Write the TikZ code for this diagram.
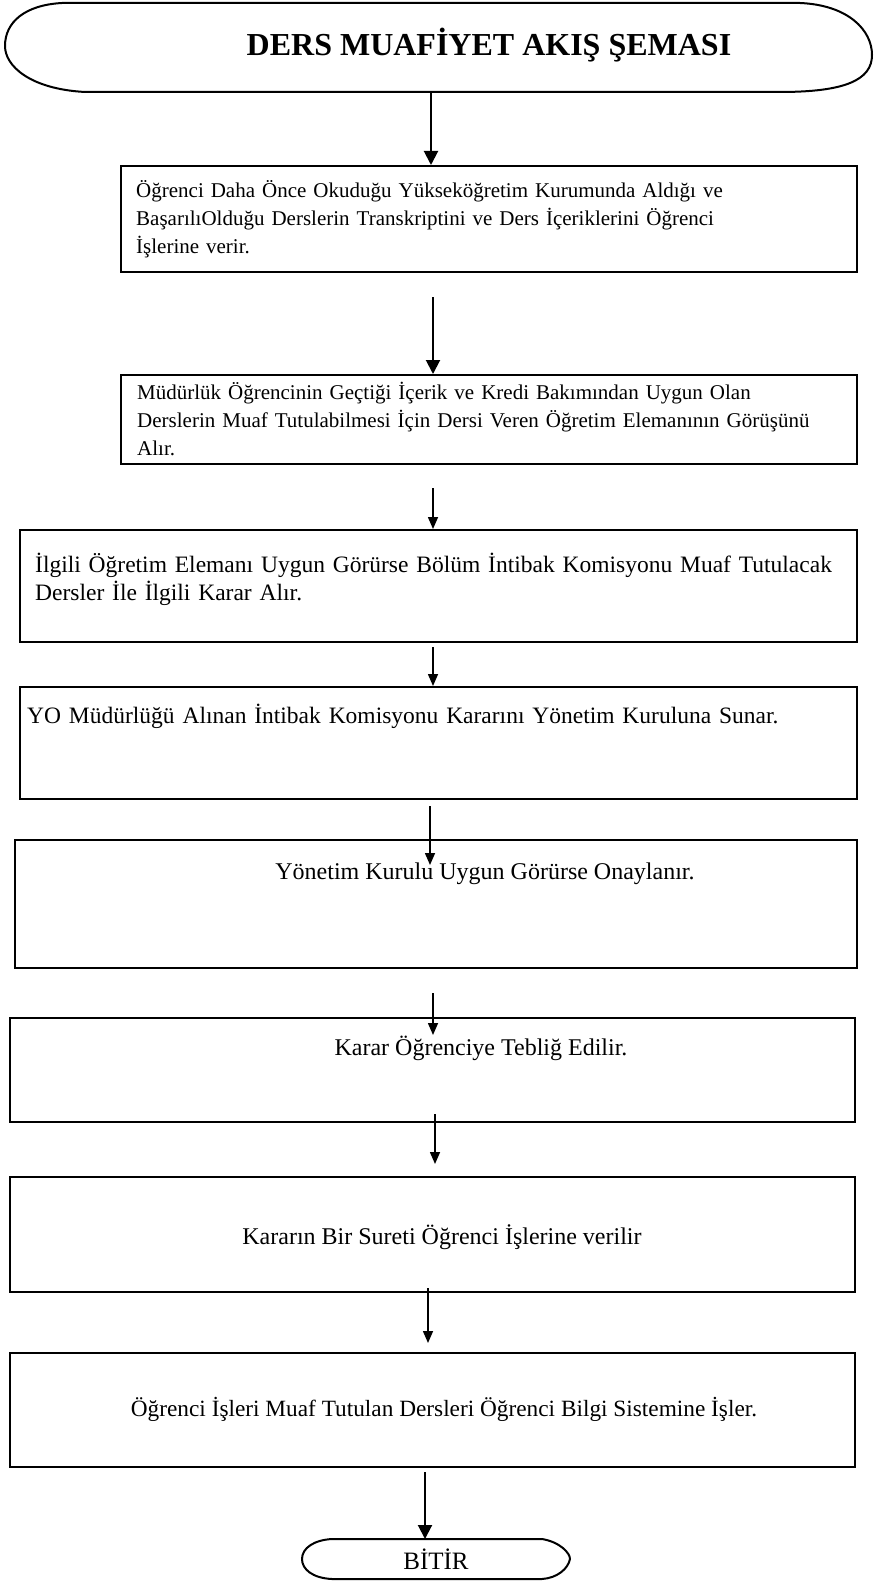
\documentclass[tikz,border=0pt]{standalone}
\usepackage{fontspec}
\setmainfont{Liberation Serif}
\usetikzlibrary{arrows.meta}
\tikzset{
  box/.style={draw, line width=2pt, rectangle, inner sep=0pt},
  txtA/.style={inner sep=0pt, font=\fontsize{21pt}{28pt}\selectfont, align=left, text width=720pt, anchor=north west},
  txtB/.style={inner sep=0pt, font=\fontsize{23.5pt}{28pt}\selectfont, align=left, text width=830pt, anchor=north west},
  ctxt/.style={inner sep=0pt, font=\fontsize{24pt}{28pt}\selectfont, anchor=base},
  arrbig/.style={line width=2pt, -{Triangle[width=14pt,length=14pt]}},
  arrsm/.style={line width=1.5pt, -{Triangle[width=10pt,length=12pt]}},
  outline/.style={line width=2pt, line join=round}
}
\begin{document}
\begin{tikzpicture}[x=1pt,y=-1pt]
\useasboundingbox (0,0) rectangle (874,1581);
% title terminal
\draw[outline] (62,3) -- (800,3) .. controls (848,5) and (872,30) .. (872,55)
  .. controls (872,80) and (845,92) .. (780,92) -- (85,92)
  .. controls (30,89) and (5,66) .. (5,46) .. controls (5,22) and (25,5) .. (62,3) -- cycle;
\node[inner sep=0pt, anchor=base, font=\fontsize{32pt}{36pt}\selectfont\bfseries] (title) at (489,56) {DERS MUAFİYET AKIŞ ŞEMASI};
\coordinate (s1) at (431,92);
% boxes (x from-to, y from-to)
\node[box, minimum width=736pt, minimum height=106pt] (b1) at (489,219) {};      % 121-857, 166-272
\node[box, minimum width=736pt, minimum height=89pt]  (b2) at (489,419.5) {};    % 121-857, 375-464
\node[box, minimum width=837pt, minimum height=112pt] (b3) at (438.5,586) {};    % 20-857, 530-642
\node[box, minimum width=837pt, minimum height=112pt] (b4) at (438.5,743) {};    % 20-857, 687-799
\node[box, minimum width=842pt, minimum height=128pt] (b5) at (436,904) {};      % 15-857, 840-968
\node[box, minimum width=845pt, minimum height=104pt] (b6) at (432.5,1070) {};   % 10-855, 1018-1122
\node[box, minimum width=845pt, minimum height=115pt] (b7) at (432.5,1234.5) {}; % 10-855, 1177-1292
\node[box, minimum width=845pt, minimum height=114pt] (b8) at (432.5,1410) {};   % 10-855, 1353-1467
% texts
\node[txtA] (t1) at (136,178) {\strut Öğrenci Daha Önce Okuduğu Yükseköğretim Kurumunda Aldığı ve\\BaşarılıOlduğu Derslerin Transkriptini ve Ders İçeriklerini Öğrenci\\İşlerine verir.};
\node[txtA] (t2) at (137,380) {\strut Müdürlük Öğrencinin Geçtiği İçerik ve Kredi Bakımından Uygun Olan\\Derslerin Muaf Tutulabilmesi İçin Dersi Veren Öğretim Elemanının Görüşünü\\Alır.};
\node[txtB] (t3) at (35,553) {\strut İlgili Öğretim Elemanı Uygun Görürse Bölüm İntibak Komisyonu Muaf Tutulacak\\Dersler İle İlgili Karar Alır.};
\node[txtB] (t4) at (27,704) {\strut YO Müdürlüğü Alınan İntibak Komisyonu Kararını Yönetim Kuruluna Sunar.};
\node[ctxt] (t5) at (485,879) {Yönetim Kurulu Uygun Görürse Onaylanır.};
\node[ctxt] (t6) at (481,1055) {Karar Öğrenciye Tebliğ Edilir.};
\node[ctxt] (t7) at (442,1244) {Kararın Bir Sureti Öğrenci İşlerine verilir};
\node[ctxt, font=\fontsize{23.3pt}{28pt}\selectfont] (t8) at (444,1416) {Öğrenci İşleri Muaf Tutulan Dersleri Öğrenci Bilgi Sistemine İşler.};
% end terminal
\node[inner sep=0pt, anchor=base, font=\fontsize{25pt}{28pt}\selectfont] (bitir) at (436,1569) {BİTİR};
\draw[outline] (332,1539) -- (542,1539) .. controls (560,1542) and (570,1553) .. (570,1559)
  .. controls (568,1569) and (557,1578) .. (542,1579) -- (332,1579)
  .. controls (312,1578) and (302,1569) .. (302,1559) .. controls (302,1548) and (314,1540) .. (332,1539) -- cycle;
\coordinate (e9) at (425,1539);
% arrow start/end coordinates
\coordinate (s2) at (433,297);
\coordinate (s3) at (433,488);
\coordinate (s4) at (433,647);
\coordinate (s5) at (430,806);
\coordinate (e5) at (430,865);
\coordinate (s6) at (433,993);
\coordinate (e6) at (433,1035);
\coordinate (s7) at (435,1114);
\coordinate (e7) at (435,1164);
\coordinate (s8) at (428,1288);
\coordinate (e8) at (428,1343);
\coordinate (s9) at (425,1472);
% arrows
\draw[arrbig] (s1) -- (s1 |- b1.north);
\draw[arrbig] (s2) -- (s2 |- b2.north);
\draw[arrsm] (s3) -- (s3 |- b3.north);
\draw[arrsm] (s4) -- (s4 |- b4.north);
\draw[arrsm] (s5) -- (e5);
\draw[arrsm] (s6) -- (e6);
\draw[arrsm] (s7) -- (e7);
\draw[arrsm] (s8) -- (e8);
\draw[arrbig] (s9) -- (e9);
\end{tikzpicture}
\end{document}
